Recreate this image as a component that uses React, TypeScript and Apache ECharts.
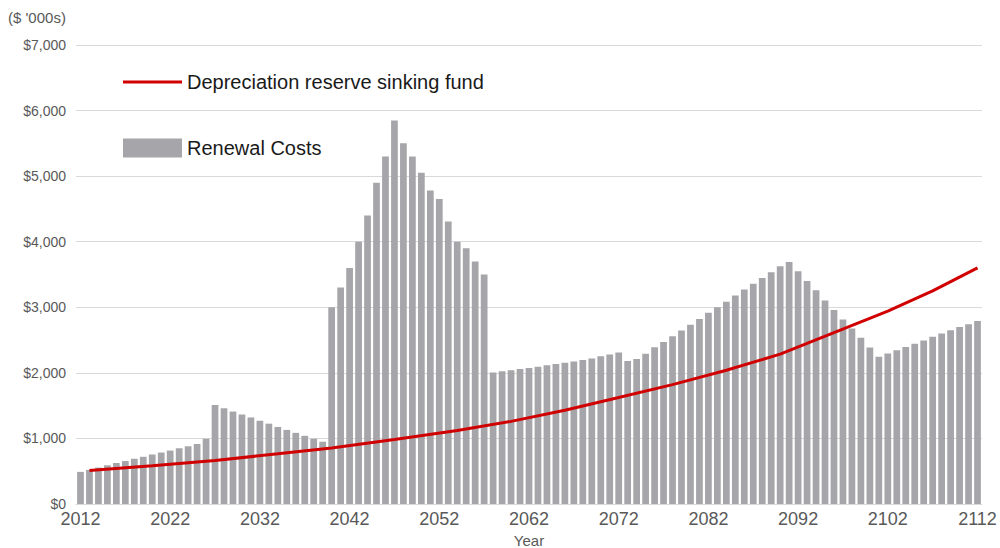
import React, { useEffect, useRef } from "react";
import * as echarts from "echarts";

const years: string[] = Array.from({ length: 101 }, (_, i) => String(2012 + i));

const renewalCosts: number[] = [
  490, 520, 555, 590, 625, 655, 690, 720, 755, 785,
  815, 850, 880, 915, 995, 1510, 1460, 1410, 1365, 1320,
  1270, 1225, 1175, 1130, 1085, 1040, 995, 950, 3000, 3300,
  3600, 4000, 4400, 4900, 5300, 5850, 5500, 5300, 5050, 4780,
  4650, 4310, 4000, 3900, 3700, 3500, 2005, 2025, 2040, 2060,
  2075, 2095, 2115, 2135, 2155, 2175, 2195, 2220, 2255, 2280,
  2310, 2180, 2210, 2290, 2390, 2470, 2560, 2645, 2735, 2820,
  2915, 3000, 3085, 3180, 3270, 3360, 3445, 3535, 3625, 3690,
  3550, 3400, 3260, 3105, 2960, 2815, 2675, 2535, 2385, 2245,
  2295, 2345, 2395, 2445, 2495, 2550, 2600, 2650, 2700, 2740,
  2790,
];

const sinkingFund: [string, number][] = [
  ["2013", 510], ["2020", 585], ["2027", 665], ["2034", 765],
  ["2040", 855], ["2047", 985], ["2054", 1120], ["2060", 1260],
  ["2066", 1430], ["2072", 1625], ["2078", 1820], ["2084", 2040],
  ["2090", 2285], ["2096", 2615], ["2102", 2940], ["2107", 3250],
  ["2112", 3600],
];

const lineName = "Depreciation reserve sinking fund";
const barName = "Renewal Costs";
const unitLabel = "($ '000s)";

export default function App() {
  const ref = useRef<HTMLDivElement>(null);
  useEffect(() => {
    if (!ref.current) return;
    const chart = echarts.init(ref.current, undefined, { renderer: "svg" });
    const font = "'Liberation Sans', Arial, sans-serif";
    chart.setOption({
      animation: false,
      backgroundColor: "#ffffff",
      textStyle: { fontFamily: font },
      title: {
        text: unitLabel,
        left: 3,
        top: 5,
        textStyle: { fontSize: 15, fontWeight: "normal", color: "#595959", fontFamily: font },
      },
      legend: {
        orient: "vertical",
        left: 118,
        top: 67,
        itemWidth: 59,
        itemHeight: 19,
        itemGap: 46,
        textStyle: { fontSize: 20, color: "#1a1a1a", fontFamily: font },
        data: [
          { name: lineName, icon: "path://M0 0H59V3H0Z" },
          { name: barName, icon: "rect" },
        ],
      },
      grid: { left: 76, right: 18, top: 45, bottom: 44, containLabel: false, outerBoundsMode: "none" },
      xAxis: {
        type: "category",
        data: years,
        name: "Year",
        nameLocation: "middle",
        nameGap: 28,
        nameTextStyle: { fontSize: 15, color: "#595959", fontFamily: font },
        axisTick: { show: false },
        axisLine: { lineStyle: { color: "#d9d9d9" } },
        axisLabel: { interval: 9, fontSize: 18, color: "#595959", margin: 6, fontFamily: font },
      },
      yAxis: {
        type: "value",
        min: 0,
        max: 7000,
        interval: 1000,
        axisLine: { show: false },
        axisTick: { show: false },
        axisLabel: {
          formatter: (v: number) => "$" + v.toLocaleString("en-US"),
          fontSize: 14,
          color: "#595959",
          margin: 10,
          fontFamily: font,
        },
        splitLine: { lineStyle: { color: "#d9d9d9", width: 1 } },
      },
      series: [
        {
          name: barName,
          type: "bar",
          data: renewalCosts,
          barCategoryGap: "25%",
          itemStyle: { color: "#a6a6aa" },
          z: 1,
        },
        {
          name: lineName,
          type: "line",
          data: sinkingFund,
          symbol: "none",
          lineStyle: { color: "#d00000", width: 3 },
          itemStyle: { color: "#d00000" },
          z: 3,
        },
      ],
    });
    return () => chart.dispose();
  }, []);
  return (
    <div
      ref={ref}
      style={{ position: "absolute", left: 0, top: 0, width: 1000, height: 548, background: "#fff" }}
    />
  );
}
